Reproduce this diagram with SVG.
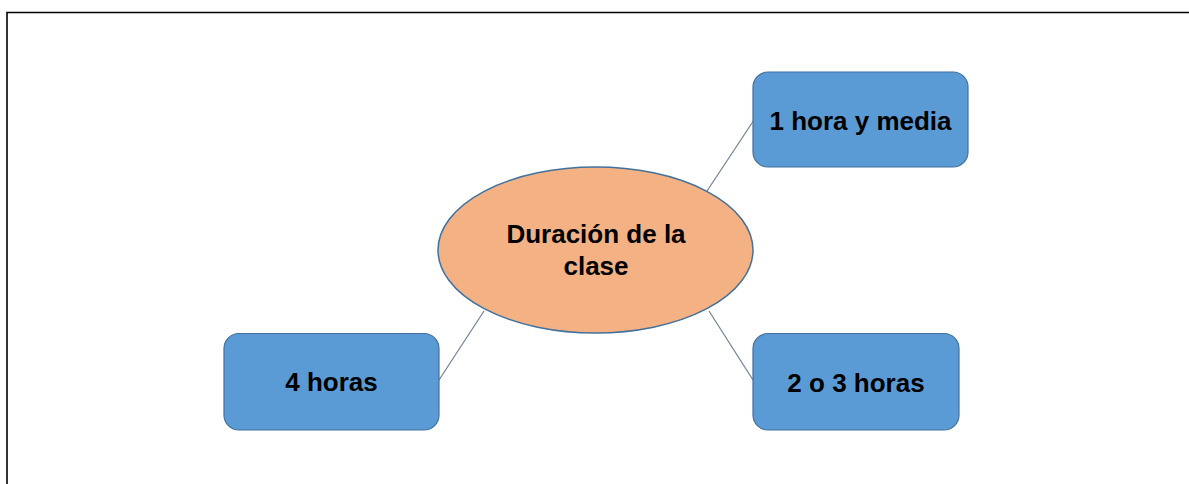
<svg xmlns="http://www.w3.org/2000/svg" width="1189" height="484" viewBox="0 0 1189 484">
<style>
.box{fill:#5B9BD5;stroke:#41719C;stroke-width:1.2}
.ell{fill:#F4B183;stroke:#41719C;stroke-width:1.5}
.lbl{font-family:"Liberation Sans",Arial,sans-serif;font-weight:bold;font-size:26px;fill:#000;text-anchor:middle}
.conn{stroke:#6F7F90;stroke-width:1.2;fill:none}
.frame{stroke:#000;stroke-width:1.6;fill:none}
</style>
<rect width="1189" height="484" fill="#fff"/>
<path class="frame" d="M7,485 V12.5 H1190"/>
<g id="connectors">
<line class="conn" x1="707" y1="191" x2="754" y2="120"/>
<line class="conn" x1="709" y1="311" x2="753" y2="380"/>
<line class="conn" x1="484" y1="311" x2="439" y2="380"/>
</g>
<g id="center">
<ellipse class="ell" cx="595.5" cy="250" rx="157.5" ry="83"/>
<text class="lbl" x="596" y="243">Duración de la</text>
<text class="lbl" x="596" y="275">clase</text>
</g>
<g id="n1">
<rect class="box" x="753" y="72" width="215" height="95" rx="15"/>
<text class="lbl" x="860.5" y="130">1 hora y media</text>
</g>
<g id="n2">
<rect class="box" x="224" y="333.5" width="215" height="96.5" rx="15"/>
<text class="lbl" x="331.5" y="391">4 horas</text>
</g>
<g id="n3">
<rect class="box" x="753" y="333.5" width="206" height="96.5" rx="15"/>
<text class="lbl" x="856" y="391.5">2 o 3 horas</text>
</g>
</svg>
